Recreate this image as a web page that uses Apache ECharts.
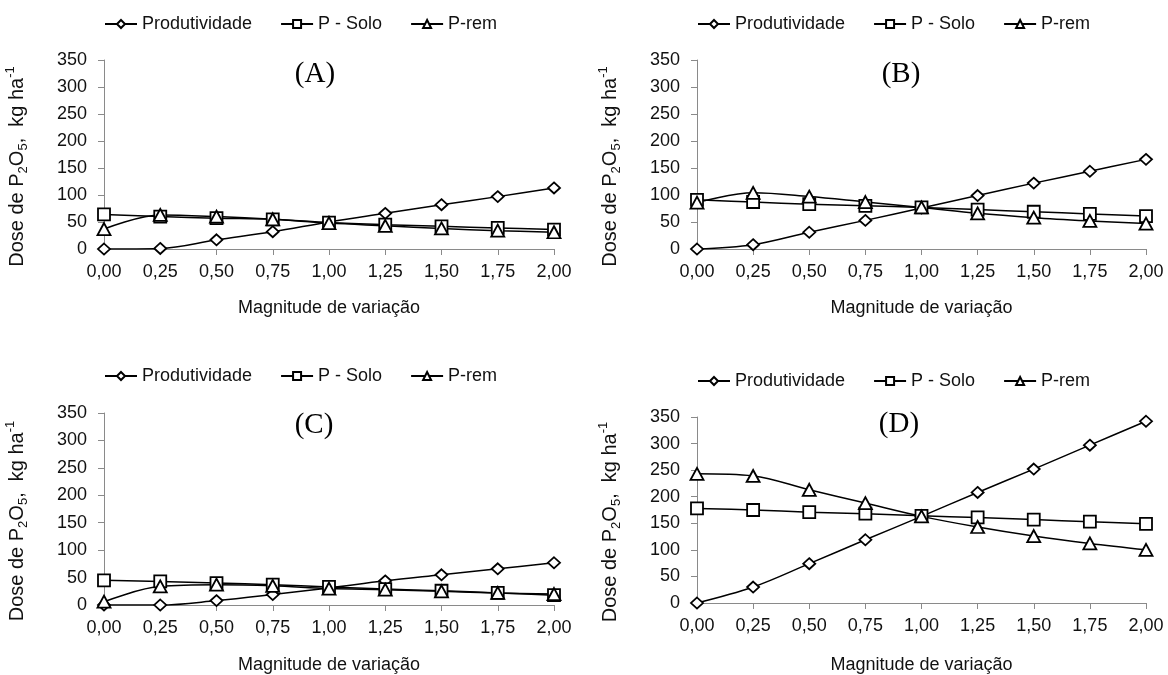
<!DOCTYPE html>
<html><head><meta charset="utf-8">
<script src="https://cdn.jsdelivr.net/npm/echarts@6/dist/echarts.min.js"></script>
<style>html,body{margin:0;padding:0;background:#fff}#c{width:1168px;height:675px}</style>
</head><body><div id="c"></div>
<script>
// ---- data ----
const categories = ['0,00','0,25','0,50','0,75','1,00','1,25','1,50','1,75','2,00'];
const seriesNames = ['Produtividade','P - Solo','P-rem'];
const panelLabels = ['(A)','(B)','(C)','(D)'];
const yMin = 0, yMax = 350, yStep = 50;

const prodA = [0, 1, 17, 32, 50, 66, 82, 97, 113];
const soloA = [64, 60, 57, 55, 49, 45, 42, 39, 36];
const remA  = [37, 63, 60, 55, 48, 43, 38, 34, 31];

const prodB = [0, 8, 31, 53, 76, 99, 122, 144, 166];
const soloB = [91, 87, 83, 80, 77, 73, 69, 65, 61];
const remB  = [86, 104, 97, 87, 77, 66, 58, 52, 47];

const prodC = [0, 0, 8, 19, 31, 44, 55, 66, 77];
const soloC = [45, 43, 40, 37, 33, 29, 26, 22, 18];
const remC  = [6, 34, 37, 35, 30, 28, 25, 22, 20];

const prodD = [0, 30, 74, 119, 163, 208, 252, 297, 342];
const soloD = [178, 175, 171, 168, 164, 161, 157, 153, 149];
const remD  = [243, 239, 213, 188, 163, 143, 126, 112, 100];

const panelData = [[prodA, soloA, remA],[prodB, soloB, remB],[prodC, soloC, remC],[prodD, soloD, remD]];

// ---- layout ----
const FONT = '"Liberation Sans", Arial, sans-serif';
const TXT = '#111';
const AX = '#8a8a8a';
const grids = [
  {left: 104, top: 60, width: 450, height: 189},
  {left: 697, top: 60, width: 449, height: 189},
  {left: 104, top: 413, width: 450, height: 194},
  {left: 697, top: 417, width: 449, height: 189}
];
const legendTops = [15, 15, 367, 372];
const titlePos = [[315, 74], [901, 74], [314, 425], [899, 424]];
const xNameGaps = [50, 50, 51, 53];
const symbols = ['diamond', 'rect', 'triangle'];
const symbolSizes = [[12, 11], [12, 12], [13, 12]];

const option = {
  backgroundColor: '#fff',
  animation: false,
  textStyle: {fontFamily: FONT, color: TXT},
  grid: grids.map(g => Object.assign({containLabel: false}, g)),
  legend: grids.map((g, i) => ({
    data: seriesNames,
    left: g.left, top: legendTops[i], padding: 0,
    itemWidth: 32, itemHeight: 10, itemGap: 28,
    textStyle: {fontSize: 18, color: TXT, fontFamily: FONT},
    selectedMode: false
  })),
  xAxis: grids.map((g, i) => ({
    type: 'category', gridIndex: i, data: categories, boundaryGap: false,
    name: 'Magnitude de variação', nameLocation: 'middle', nameGap: xNameGaps[i],
    nameTextStyle: {fontSize: 18, color: TXT, fontFamily: FONT},
    axisLine: {lineStyle: {color: AX, width: 1}},
    axisTick: {show: true, alignWithLabel: true, length: 6, lineStyle: {color: AX}},
    axisLabel: {fontSize: 18, color: TXT, margin: 14, fontFamily: FONT},
    splitLine: {show: false}
  })),
  yAxis: grids.map((g, i) => ({
    type: 'value', gridIndex: i, min: yMin, max: yMax, interval: yStep,
    name: '{a|Dose de P}{b|2}{a|O}{b|5}{a|,  kg ha}{c|-1}',
    nameLocation: 'middle', nameGap: 74,
    nameTextStyle: {
      padding: [0, 24, 0, 0],
      rich: {
        a: {fontSize: 20, lineHeight: 26, color: TXT, fontFamily: FONT, verticalAlign: 'middle'},
        b: {fontSize: 13, lineHeight: 12, color: TXT, fontFamily: FONT, verticalAlign: 'bottom'},
        c: {fontSize: 13, lineHeight: 12, color: TXT, fontFamily: FONT, verticalAlign: 'top'}
      }
    },
    axisLine: {show: true, lineStyle: {color: AX, width: 1}},
    axisTick: {show: true, length: 6, lineStyle: {color: AX}},
    axisLabel: {fontSize: 18, color: TXT, margin: 17, fontFamily: FONT},
    splitLine: {show: false}
  })),
  graphic: titlePos.map((p, i) => ({
    type: 'text', x: p[0], y: p[1],
    style: {text: panelLabels[i], fontSize: 29, fontFamily: '"Liberation Serif", "Times New Roman", serif',
      fill: '#000', align: 'center', verticalAlign: 'middle', textAlign: 'center', textVerticalAlign: 'middle'}
  })),
  series: []
};

panelData.forEach((arrs, gi) => {
  arrs.forEach((vals, si) => {
    option.series.push({
      type: 'line', name: seriesNames[si], xAxisIndex: gi, yAxisIndex: gi,
      data: vals, smooth: 0.35,
      symbol: symbols[si], symbolSize: symbolSizes[si], showAllSymbol: true,
      lineStyle: {color: '#000', width: 1.5},
      itemStyle: {color: '#fff', borderColor: '#000', borderWidth: 1.8},
      emphasis: {disabled: true}
    });
  });
});

const chart = echarts.init(document.getElementById('c'), null, {renderer: 'canvas'});
chart.setOption(option);
</script>
</body></html>
